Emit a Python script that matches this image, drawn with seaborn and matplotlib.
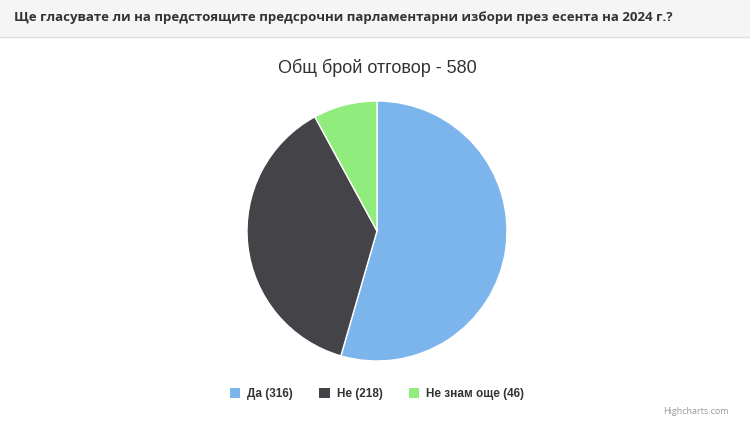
import seaborn as sns
import matplotlib.pyplot as plt
from matplotlib.patches import Patch, Rectangle

sns.set_theme(style="white")
plt.rcParams['font.family'] = ['Open Sans', 'DejaVu Sans']

question = 'Ще гласувате ли на предстоящите предсрочни парламентарни избори през есента на 2024 г.?'
title = 'Общ брой отговор - 580'
labels = ['Да', 'Не', 'Не знам още']
counts = [316, 218, 46]
colors = ['#7cb5ec', '#434348', '#90ed7d']

W, H = 750, 432
fig = plt.figure(figsize=(7.5, 4.32), dpi=100)
fig.patch.set_facecolor('white')

# header band
fig.patches.append(Rectangle((0, 1 - 37 / H), 1, 37 / H, transform=fig.transFigure,
                             facecolor='#f5f5f5', edgecolor='none'))
fig.add_artist(plt.Line2D([0, 1], [1 - 37 / H] * 2, transform=fig.transFigure,
                          color='#dddddd', lw=1))
fig.text(14 / W, 1 - 18 / H, question, fontsize=9.5, fontweight='bold',
         color='#333333', va='center', ha='left')
fig.text(377 / W, 1 - 68 / H, title, fontsize=13, color='#333333',
         va='center', ha='center', family=['Liberation Sans', 'DejaVu Sans'])

# pie
r = 130
ax = fig.add_axes([(377 - r) / W, 1 - (231 + r) / H, 2 * r / W, 2 * r / H])
ax.pie(counts, colors=colors, startangle=90, counterclock=False,
       wedgeprops=dict(edgecolor='white', linewidth=1))
ax.set_xlim(-1, 1)
ax.set_ylim(-1, 1)
ax.set_aspect('equal')

handles = [Patch(facecolor=c, edgecolor='none') for c in colors]
leg_labels = [f'{l} ({n})' for l, n in zip(labels, counts)]
leg = fig.legend(handles, leg_labels, loc='center', bbox_to_anchor=(377 / W, 1 - 394 / H),
                 ncol=3, frameon=False,
                 prop={'size': 8.5, 'weight': 'bold', 'family': 'Liberation Sans'},
                 handlelength=0.9, handleheight=0.9, columnspacing=2.2, handletextpad=0.6)
for t in leg.get_texts():
    t.set_color('#333333')

fig.text(729 / W, 1 - 411 / H, 'Highcharts.com', fontsize=6.5, color='#999999',
         ha='right', va='center')

fig.savefig('out.png', dpi=100)
